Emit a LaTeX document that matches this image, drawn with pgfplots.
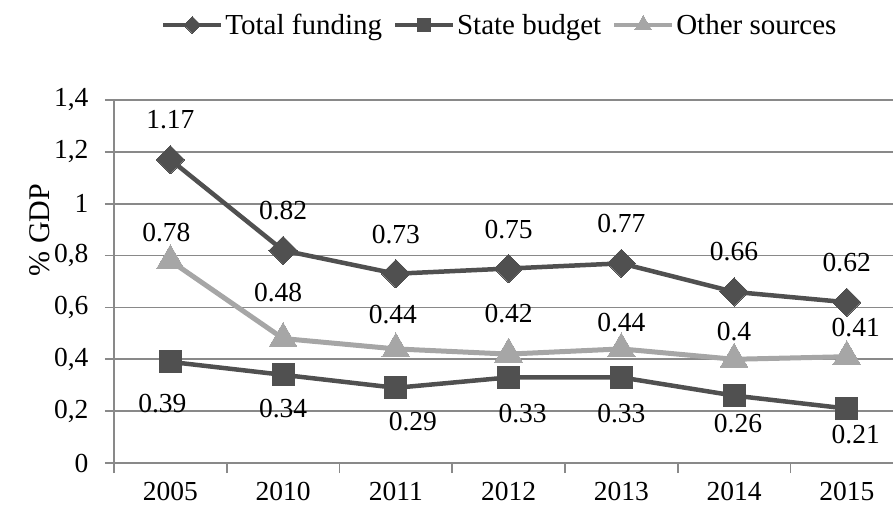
\documentclass[border=0pt]{standalone}
\usepackage{pgfplots}
\pgfplotsset{compat=1.18}
\usepackage{pgfplotstable}
\usepackage{fontspec}
\setmainfont{Liberation Serif}
\definecolor{darkser}{HTML}{505050}
\definecolor{lightser}{HTML}{A6A6A6}
\definecolor{gridc}{HTML}{898989}

\pgfplotstableread{
x y dx dy lbl
0 1.17 0 40 1.17
1 0.82 0 40 0.82
2 0.73 0 39 0.73
3 0.75 0 39 0.75
4 0.77 0 40 0.77
5 0.66 0 40 0.66
6 0.62 0 40 0.62
}\totaltab
\pgfplotstableread{
x y dx dy lbl
0 0.39 -8 -42 0.39
1 0.34 0 -34 0.34
2 0.29 17 -34 0.29
3 0.33 14 -36 0.33
4 0.33 0 -36 0.33
5 0.26 4 -28 0.26
6 0.21 9 -26 0.21
}\statetab
\pgfplotstableread{
x y dx dy lbl
0 0.78 -4 28 0.78
1 0.48 -5 46 0.48
2 0.44 -3 34 0.44
3 0.42 0 41 0.42
4 0.44 0 26 0.44
5 0.40 0 28 0.4
6 0.41 9 29 0.41
}\othertab

\newcommand{\lblfont}{\fontsize{27.5}{32}\selectfont}
\begin{document}
\begin{tikzpicture}
\begin{axis}[
  at={(0,0)}, anchor=south west,
  scale only axis, width=779pt, height=363pt,
  xmin=-0.5, xmax=6.41, ymin=0, ymax=1.4,
  axis x line*=bottom, axis y line*=left,
  every outer x axis line/.append style={-},
  every outer y axis line/.append style={-},
  axis line style={draw=gridc, line width=1.8pt, -},
  xtick={0,...,6},
  xticklabels={2005,2010,2011,2012,2013,2014,2015},
  major x tick style={draw=none},
  minor xtick={-0.5,0.5,...,5.5},
  minor x tick style={draw=gridc, line width=1.8pt},
  minor tick length=10pt,
  ytick={0,0.2,...,1.4},
  major y tick style={draw=gridc, line width=1.8pt},
  major tick length=9pt,
  tick align=outside,
  ymajorgrids,
  major grid style={draw=gridc, line width=1.8pt},
  /pgf/number format/use comma,
  /pgf/number format/assume math mode=true,
  tick label style={font=\lblfont, text=black},
  xticklabel style={yshift=-7pt},
  yticklabel style={xshift=-13pt},
  ylabel={\% GDP},
  ylabel style={font=\fontsize{30}{35}\selectfont, at={(axis description cs:-0.095,0.642)}, anchor=center},
  legend columns=3,
  legend style={at={(rel axis cs:0.4955,1.2066)}, anchor=center, draw=none, fill=none,
    font=\fontsize{29}{34}\selectfont, /tikz/every even column/.append style={column sep=9pt},
    inner sep=0pt},
  legend image code/.code={\draw[#1, line width=4pt, mark repeat=2, mark phase=2, /tikz/every mark/.append style={scale=0.6}] plot coordinates {(0pt,0pt) (29pt,0pt) (58pt,0pt)};},
  nodes near coords,
  point meta=explicit symbolic,
  visualization depends on={\thisrow{dx} \as \lx},
  visualization depends on={\thisrow{dy} \as \ly},
  every node near coord/.append style={font=\lblfont, text=black, anchor=center, xshift=\lx pt, yshift=\ly pt, inner sep=0pt},
  clip=false,
]
\addplot[draw=darkser, line width=4.5pt, mark=square*, mark size=10pt,
  mark options={rotate=45, fill=darkser, draw=darkser, line width=0pt}]
  table[x=x, y=y, meta=lbl] {\totaltab};
\addlegendentry{Total funding}
\addplot[draw=darkser, line width=4.5pt, mark=square*, mark size=11pt,
  mark options={fill=darkser, draw=darkser, line width=0pt}]
  table[x=x, y=y, meta=lbl] {\statetab};
\addlegendentry{State budget}
\addplot[draw=lightser, line width=5pt, mark=triangle*, mark size=16pt,
  mark options={fill=lightser, draw=lightser, line width=0pt}]
  table[x=x, y=y, meta=lbl] {\othertab};
\addlegendentry{Other sources}
\end{axis}
\pgfresetboundingbox
\path[use as bounding box] (-114pt,-46pt) rectangle (779pt,463pt);
\end{tikzpicture}
\end{document}
